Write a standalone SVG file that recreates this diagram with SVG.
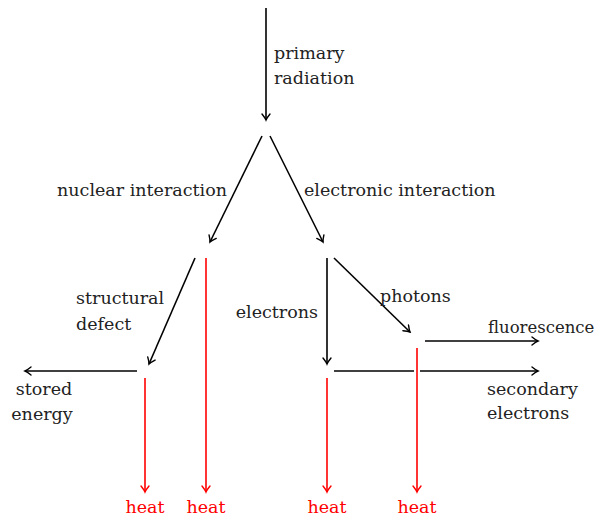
<svg xmlns="http://www.w3.org/2000/svg" width="600" height="516" viewBox="0 0 600 516">
<style>
text{font-family:'DejaVu Serif','Liberation Serif',serif;font-size:17.5px;fill:#222}
text.r{fill:#ff0000}
.k{stroke:#000;stroke-width:1.6;fill:none}
.red{stroke:#ff0000;stroke-width:1.6;fill:none}
.halo{stroke:#fff;stroke-width:6;fill:none}
</style>
<defs>
<marker id="ak" viewBox="-8 -5 10 10" markerWidth="10" markerHeight="10" refX="0" refY="0" orient="auto" markerUnits="userSpaceOnUse">
<path d="M-6,-4 Q-2,-0.8 0,0 Q-2,0.8 -6,4" stroke="#000" stroke-width="1.4" fill="none" stroke-linecap="round"/>
</marker>
<marker id="ar" viewBox="-8 -5 10 10" markerWidth="10" markerHeight="10" refX="0" refY="0" orient="auto" markerUnits="userSpaceOnUse">
<path d="M-6,-4 Q-2,-0.8 0,0 Q-2,0.8 -6,4" stroke="#ff0000" stroke-width="1.4" fill="none" stroke-linecap="round"/>
</marker>
</defs>
<g id="connectors">
<line class="k" x1="266" y1="8" x2="266" y2="120" marker-end="url(#ak)"/>
<line class="k" x1="262" y1="136" x2="210" y2="242" marker-end="url(#ak)"/>
<line class="k" x1="270" y1="136" x2="323" y2="242" marker-end="url(#ak)"/>
<line class="k" x1="195" y1="258" x2="149" y2="364" marker-end="url(#ak)"/>
<line class="red" x1="206" y1="258" x2="206" y2="492" marker-end="url(#ar)"/>
<line class="k" x1="137" y1="371" x2="25" y2="371" marker-end="url(#ak)"/>
<line class="red" x1="145" y1="378" x2="145" y2="492" marker-end="url(#ar)"/>
<line class="k" x1="327" y1="258" x2="327" y2="364" marker-end="url(#ak)"/>
<line class="k" x1="334" y1="258" x2="410" y2="332" marker-end="url(#ak)"/>
<line class="k" x1="425" y1="341" x2="538" y2="341" marker-end="url(#ak)"/>
<line class="k" x1="334" y1="371" x2="538" y2="371" marker-end="url(#ak)"/>
<line class="red" x1="327" y1="378" x2="327" y2="492" marker-end="url(#ar)"/>
<line class="halo" x1="417" y1="360" x2="417" y2="382"/>
<line class="red" x1="417" y1="348" x2="417" y2="492" marker-end="url(#ar)"/>
</g>
<g id="n-primary"><text x="274" y="59">primary</text><text x="274" y="84">radiation</text></g>
<g id="n-nuclear"><text x="227" y="196" text-anchor="end">nuclear interaction</text></g>
<g id="n-electronic"><text x="304" y="196">electronic interaction</text></g>
<g id="n-structural"><text x="76" y="304">structural</text><text x="76" y="330">defect</text></g>
<g id="n-stored"><text x="44" y="395" text-anchor="middle">stored</text><text x="42" y="420" text-anchor="middle">energy</text></g>
<g id="n-electrons"><text x="318" y="318" text-anchor="end">electrons</text></g>
<g id="n-photons"><text x="380" y="302">photons</text></g>
<g id="n-fluorescence"><text x="488" y="333" style="font-size:16.5px">fluorescence</text></g>
<g id="n-secondary"><text x="487" y="395">secondary</text><text x="487" y="419">electrons</text></g>
<g id="n-heat1"><text class="r" x="145" y="513" text-anchor="middle">heat</text></g>
<g id="n-heat2"><text class="r" x="206" y="513" text-anchor="middle">heat</text></g>
<g id="n-heat3"><text class="r" x="327" y="513" text-anchor="middle">heat</text></g>
<g id="n-heat4"><text class="r" x="417" y="513" text-anchor="middle">heat</text></g>
</svg>
